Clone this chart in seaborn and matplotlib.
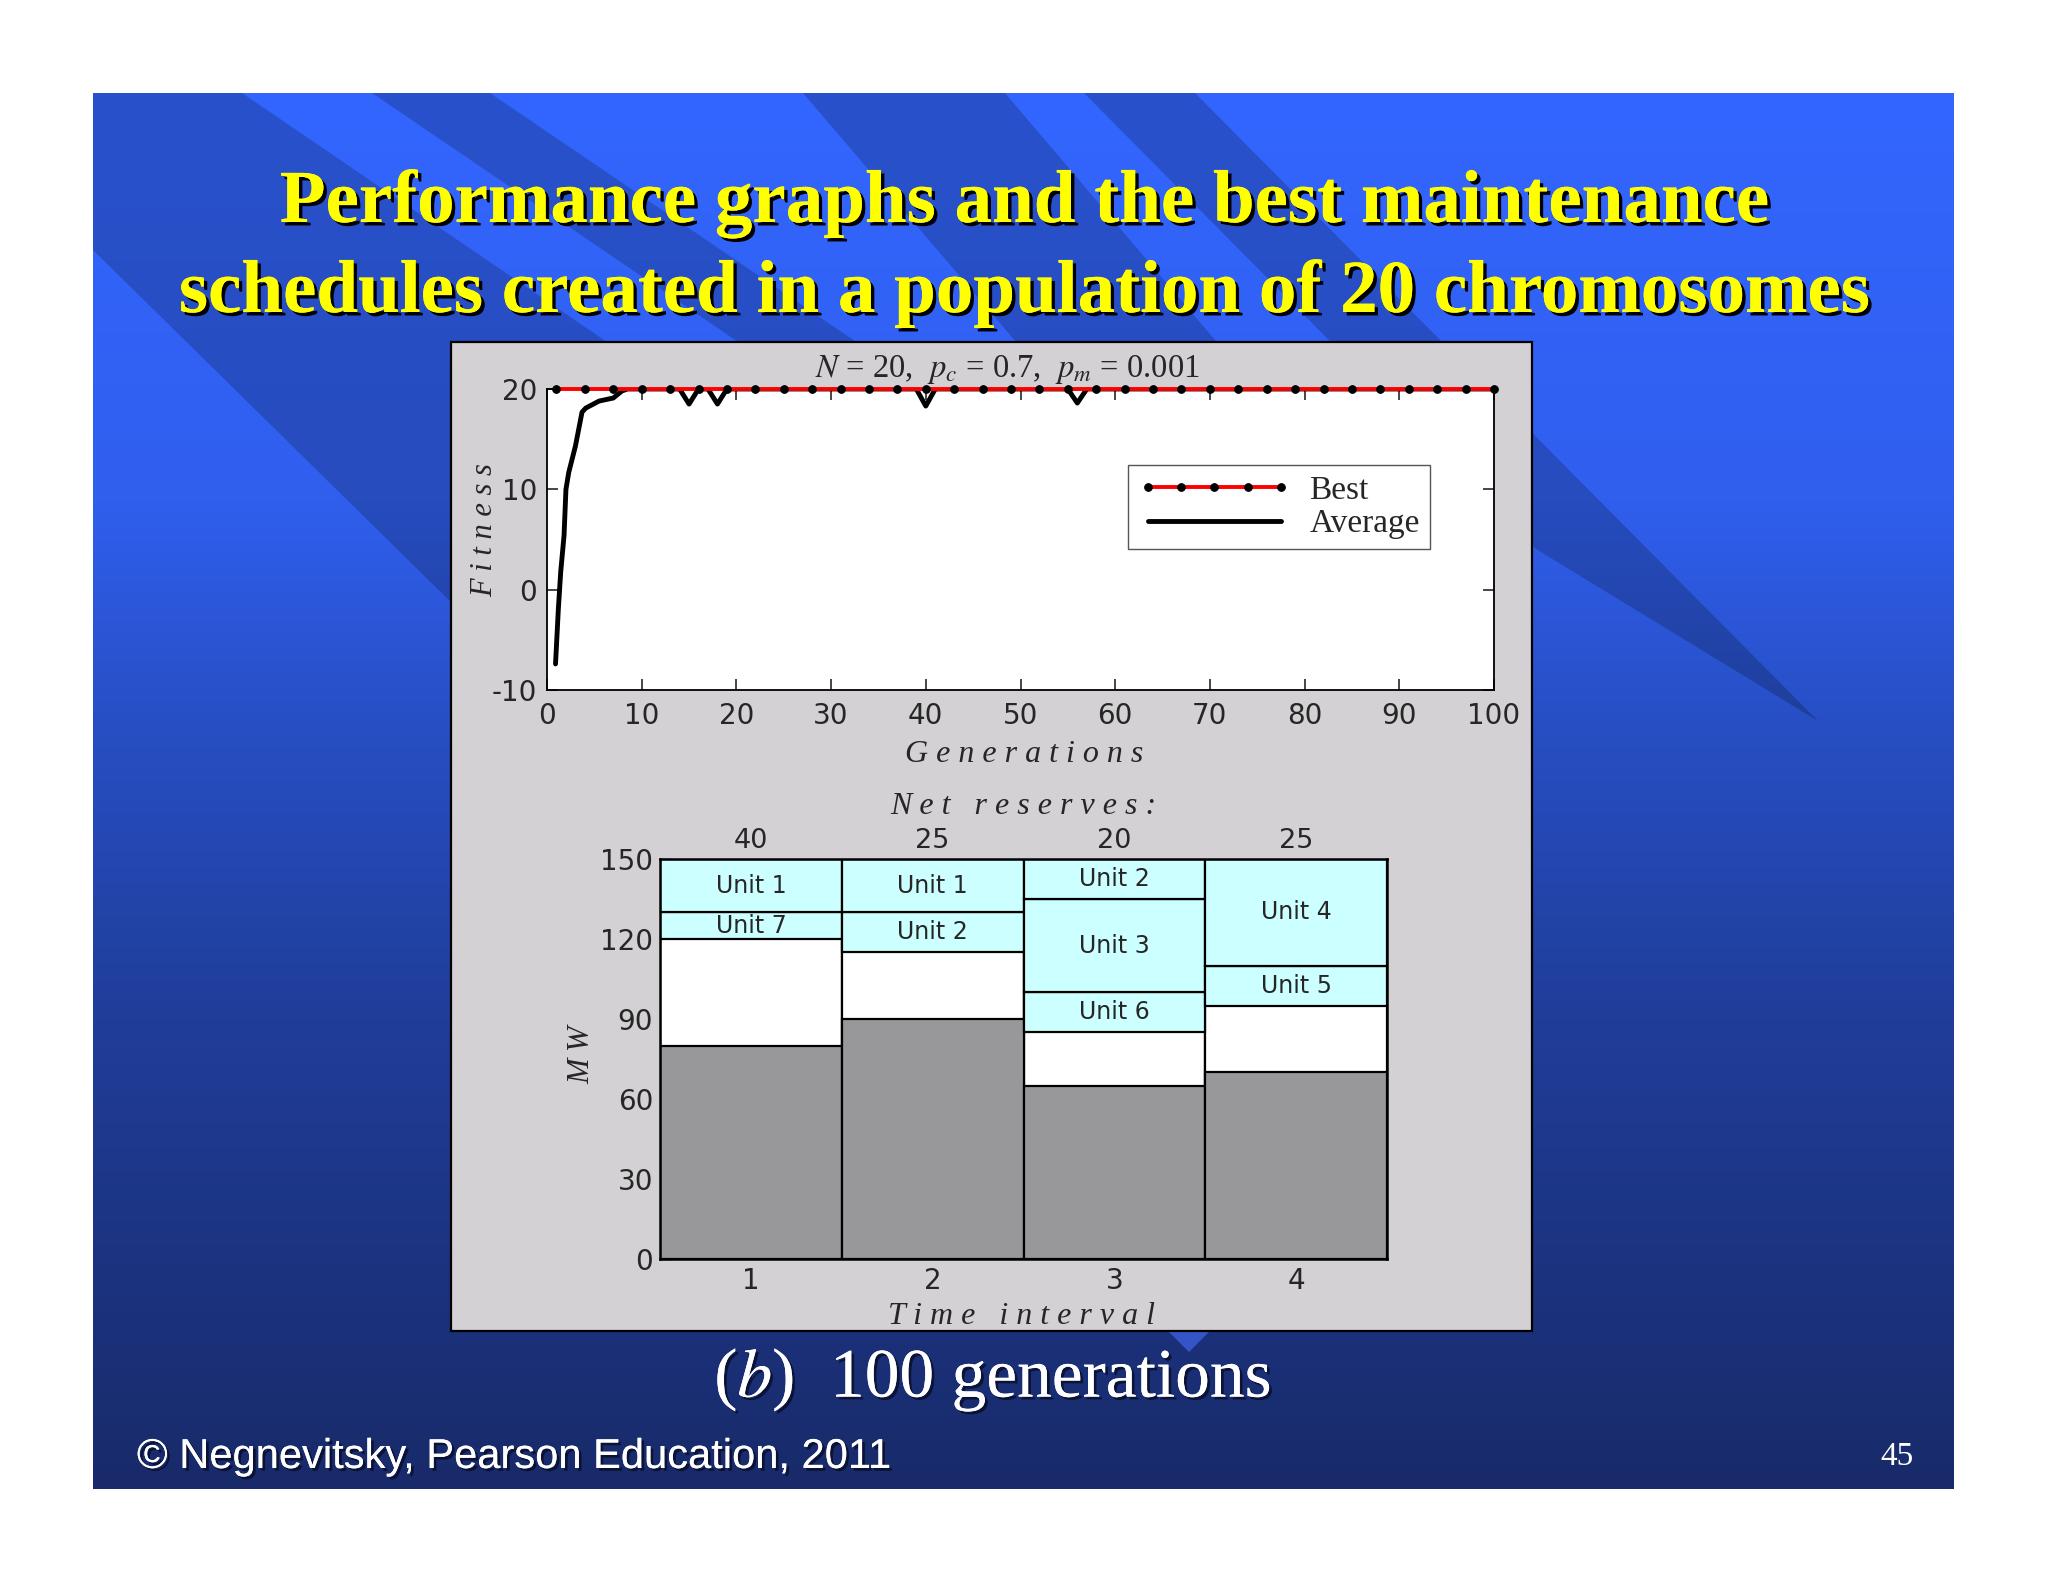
import numpy as np
import matplotlib
matplotlib.use("Agg")
import matplotlib.pyplot as plt
import matplotlib.patheffects as pe
from matplotlib.patches import Rectangle, Polygon
from matplotlib.ticker import MultipleLocator
import seaborn as sns

# ---- data ----
# best fitness (markers every third generation)
best_gen = [1, 4, 7, 10, 13, 16, 19, 22, 25, 28, 31, 34, 37, 40, 43, 46, 49,
            52, 55, 58, 61, 64, 67, 70, 73, 76, 79, 82, 85, 88, 91, 94, 97, 100]
best_fit = [20] * len(best_gen)

# average fitness
avg_gen = [0.9, 1.2, 1.45, 1.8, 2.0, 2.3, 3.0, 3.7, 4.1, 5.5, 7.0, 7.9, 8.5,
           14, 15, 16, 17, 18, 19, 39, 40, 41, 55, 56, 57, 100]
avg_fit = [-7.4, -1.9, 1.8, 5.4, 10.0, 11.7, 14.3, 17.7, 18.1, 18.8, 19.1, 19.8, 20,
           20, 18.5, 20, 20, 18.5, 20, 20, 18.3, 20, 20, 18.6, 20, 20]

# maintenance schedule
intervals = [1, 2, 3, 4]
net_reserves = [40, 25, 20, 25]
load_mw = [80, 90, 65, 70]
capacity_mw = [150, 150, 150, 150]
unit_interval = [1, 1, 2, 2, 3, 3, 3, 4, 4]
unit_names = ['Unit 7', 'Unit 1', 'Unit 2', 'Unit 1', 'Unit 6', 'Unit 3', 'Unit 2', 'Unit 5', 'Unit 4']
unit_bottom = [120, 130, 115, 130, 85, 100, 135, 95, 110]
unit_top = [130, 150, 130, 150, 100, 135, 150, 110, 150]

# ---- style ----
sns.set_style("ticks")
plt.rcParams['font.family'] = ['DejaVu Sans']
plt.rcParams['mathtext.fontset'] = 'stix'
plt.rcParams['axes.unicode_minus'] = False

W, H = 2048, 1582
fig = plt.figure(figsize=(W / 100, H / 100), dpi=100)

# ---- slide background (pixel coordinates) ----
bg = fig.add_axes([0, 0, 1, 1], zorder=-1)
bg.set_xlim(0, W)
bg.set_ylim(H, 0)
bg.axis('off')

stops_y = [93, 500, 700, 1000, 1489]
stops_c = [(51, 102, 255), (48, 95, 238), (40, 80, 200), (32, 62, 155), (24, 42, 105)]
col = np.stack([np.interp(np.arange(H), stops_y, [c[i] for c in stops_c]) for i in range(3)], axis=-1) / 255
img = np.ones((H, W, 3), dtype=np.float32)
img[93:1489, 93:1954] = col[93:1489, None, :]
bg.imshow(img, extent=(0, W, H, 0), aspect='auto', interpolation='bilinear')

# darker diagonal stripes of the slide template
stripes = [
    [(93, 93), (242, 93), (1000, 610), (700, 900), (460, 611), (93, 250)],
    [(372, 93), (490, 93), (1383, 700), (1265, 700)],
    [(803, 93), (1005, 93), (1300, 440), (1100, 440)],
    [(1084, 93), (1195, 93), (1818, 721), (1536, 549)],
]
for pts in stripes:
    bg.add_patch(Polygon(pts, closed=True, facecolor='black', alpha=0.2, lw=0))

# small lighter tip below the panel
bg.add_patch(Polygon([(1168, 1331), (1210, 1331), (1189, 1352)], closed=True, facecolor='#3355c8', lw=0))

# grey panel
bg.add_patch(Rectangle((451, 342), 1081, 989, facecolor='#d3d1d3', edgecolor='black', lw=1.6))

shadow_dark = [pe.withSimplePatchShadow(offset=(2.5, -2.5), shadow_rgbFace='black', alpha=1), pe.Normal()]
shadow_soft = [pe.withSimplePatchShadow(offset=(2, -2), shadow_rgbFace='#0a1030', alpha=0.9), pe.Normal()]

bg.text(1025, 222, 'Performance graphs and the best maintenance', ha='center', va='baseline',
        fontsize=54, fontweight='bold', family='Liberation Serif', color='#ffff00', path_effects=shadow_dark)
bg.text(1025, 312, 'schedules created in a population of 20 chromosomes', ha='center', va='baseline',
        fontsize=54, fontweight='bold', family='Liberation Serif', color='#ffff00', path_effects=shadow_dark)
bg.text(993, 1397, r'($b$)  100 generations', ha='center', va='baseline',
        fontsize=50, family='Liberation Serif', color='white', path_effects=shadow_soft)
bg.text(137, 1468, '\u00a9 Negnevitsky, Pearson Education, 2011', ha='left', va='baseline',
        fontsize=30, family='Liberation Sans', color='white', path_effects=shadow_soft)
bg.text(1914, 1465, '45', ha='right', va='baseline', fontsize=24, family='Liberation Serif', color='white')

# ---- top: fitness vs generations ----
ax1 = fig.add_axes([547 / W, 1 - 690 / H, 947 / W, 301 / H])
ax1.set_facecolor('white')
sns.lineplot(x=best_gen, y=best_fit, ax=ax1, color='red', lw=2.8, marker='o', markersize=5.5,
             markerfacecolor='black', markeredgecolor='black', clip_on=False, zorder=4, label='Best')
sns.lineplot(x=avg_gen, y=avg_fit, ax=ax1, color='black', lw=3.5, zorder=3, label='Average')
ax1.set_xlim(0, 100)
ax1.set_ylim(-10, 20)
ax1.set_xticks(range(0, 101, 10))
ax1.set_yticks([-10, 0, 10, 20])
ax1.tick_params(direction='in', length=8, width=1.2, top=True, right=True, labelsize=20)
ax1.tick_params(axis='x', pad=9)
ax1.tick_params(axis='y', pad=7)
for sp in ax1.spines.values():
    sp.set_linewidth(1.3)
    sp.set_color('black')

ax1.set_title(r'$N$ = 20,  $p_c$ = 0.7,  $p_m$ = 0.001', family='Liberation Serif', fontsize=23.5,
              pad=9, x=0.486)
ax1.set_xlabel('G e n e r a t i o n s', family='Liberation Serif', style='italic',
               fontsize=23, va='center')
ax1.xaxis.set_label_coords(0.504, -0.213)
ax1.set_ylabel('F i t n e s s', family='Liberation Serif', style='italic', fontsize=22, va='center')
ax1.yaxis.set_label_coords(-0.0655, 0.53)

leg = ax1.legend(loc='upper right', bbox_to_anchor=(0.932, 0.7475), borderaxespad=0, numpoints=5,
                 handlelength=4.6, handletextpad=0.55, labelspacing=0.1, borderpad=0.3,
                 fancybox=False, framealpha=1, edgecolor='#555555',
                 prop={'family': 'Liberation Serif', 'size': 24})
leg.get_frame().set_linewidth(1.0)

# ---- bottom: maintenance schedule ----
ax2 = fig.add_axes([660 / W, 1 - 1259 / H, 727 / W, 400 / H])
ax2.bar(intervals, capacity_mw, width=1, color='white', edgecolor='black', lw=1.6, zorder=1)
ax2.bar(intervals, load_mw, width=1, color='#989799', edgecolor='black', lw=1.6, zorder=1)
heights = [t - b for b, t in zip(unit_bottom, unit_top)]
ax2.bar(unit_interval, heights, bottom=unit_bottom, width=1, color='#ccffff', edgecolor='black', lw=1.6, zorder=1)
for x, name, b, t in zip(unit_interval, unit_names, unit_bottom, unit_top):
    ax2.text(x, (b + t) / 2, name, ha='center', va='center', fontsize=17)
for x, r in zip(intervals, net_reserves):
    ax2.text(x, 1.045, str(r), transform=ax2.get_xaxis_transform(), ha='center', va='center', fontsize=19.5)

ax2.set_xlim(0.5, 4.5)
ax2.set_ylim(0, 150)
ax2.set_xticks(intervals)
ax2.set_yticks(range(0, 151, 30))
ax2.yaxis.set_minor_locator(MultipleLocator(15))
ax2.tick_params(axis='y', which='both', direction='in', length=8, width=1, labelsize=20, pad=5)
ax2.tick_params(axis='x', length=0, labelsize=20, pad=6)
for sp in ax2.spines.values():
    sp.set_linewidth(1.8)
    sp.set_color('black')

ax2.set_title('N e t   r e s e r v e s :', family='Liberation Serif', style='italic', fontsize=23,
              y=1.1325, va='center', pad=0)
ax2.set_xlabel('T i m e   i n t e r v a l', family='Liberation Serif', style='italic', fontsize=23, va='center')
ax2.xaxis.set_label_coords(0.4966, -0.1425)
ax2.set_ylabel('M W', family='Liberation Serif', style='italic', fontsize=22, va='center')
ax2.yaxis.set_label_coords(-0.107, 0.51)

fig.savefig('out.png', dpi=100)
